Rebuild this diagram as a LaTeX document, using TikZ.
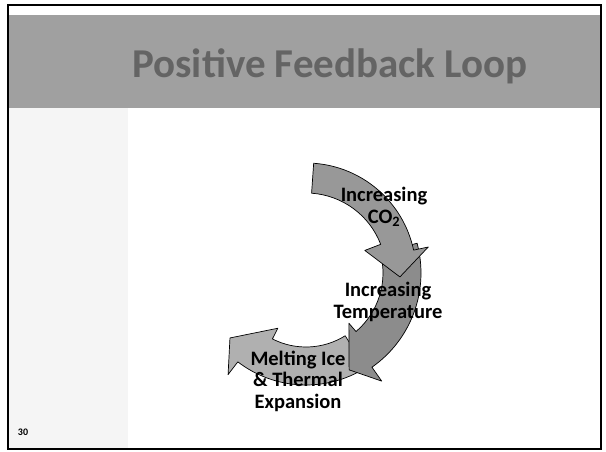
\documentclass[tikz,border=0pt]{standalone}
\usepackage{fontspec}
\setmainfont{Carlito}
\usetikzlibrary{calc}
\definecolor{bannergray}{RGB}{160,160,160}
\definecolor{titlegray}{RGB}{100,100,100}
\definecolor{panelgray}{RGB}{245,245,245}
\definecolor{arrowone}{RGB}{152,152,152}
\definecolor{arrowtwo}{RGB}{140,140,140}
\definecolor{arrowthree}{RGB}{176,176,176}
\begin{document}
\begin{tikzpicture}
    [
        x = 1pt, y = 1pt,
        cyclearrow/.style = {draw = black, line width = 0.7pt, line join = round},
        cyclelabel/.style = {align = center, font = \fontsize{20.5}{21.5}\selectfont\bfseries, inner sep = 0pt}
    ]

        \useasboundingbox (0,0) rectangle (606,451);
        \fill[white] (0,0) rectangle (606,451);
        \fill[panelgray] (8,2) rectangle (128,343);
        \fill[bannergray] (8,343) rectangle (601,436);
        \draw[line width = 1.5pt] (8,2) rectangle (601,446);

        \node[text = titlegray, font = \fontsize{41}{43}\selectfont\bfseries] (Title) at (330,385) {Positive Feedback Loop};
        \node[font = \fontsize{10}{11}\selectfont\bfseries] (PageNum) at (23,19) {30};

        \coordinate (Hub) at (306,178);

        \draw[cyclearrow, fill = arrowthree]
            ($(Hub)+(-58:112)$) arc[start angle = -58, end angle = -127.5, radius = 112]
            -- ($(Hub)+(-127.5:128)$) -- ($(Hub)+(-139.5:100)$) -- ($(Hub)+(-117:62)$)
            -- ($(Hub)+(-117:74)$) arc[start angle = -117, end angle = -58, radius = 74] -- cycle;
        \draw[cyclearrow, fill = arrowtwo]
            ($(Hub)+(15:115)$) arc[start angle = 15, end angle = -55, radius = 115]
            -- ($(Hub)+(-55:132)$) -- ($(Hub)+(-66:106)$) -- ($(Hub)+(-49.5:66)$)
            -- ($(Hub)+(-49.5:77)$) arc[start angle = -49.5, end angle = 15, radius = 77] -- cycle;
        \draw[cyclearrow, fill = arrowone]
            ($(Hub)+(86:110)$) arc[start angle = 86, end angle = 12, radius = 110]
            -- ($(Hub)+(12:125)$) -- ($(Hub)+(-2.4:94)$) -- ($(Hub)+(21:63)$)
            -- ($(Hub)+(21:80)$) arc[start angle = 21, end angle = 86, radius = 80] -- cycle;

        \node[cyclelabel] (Carbon) at (384,244) {Increasing\\CO\textsubscript{2}};
        \node[cyclelabel] (Temp) at (388,149) {Increasing\\Temperature};
        \node[cyclelabel] (Melt) at (298,70) {Melting Ice\\\& Thermal\\Expansion};
    \end{tikzpicture}
\end{document}
